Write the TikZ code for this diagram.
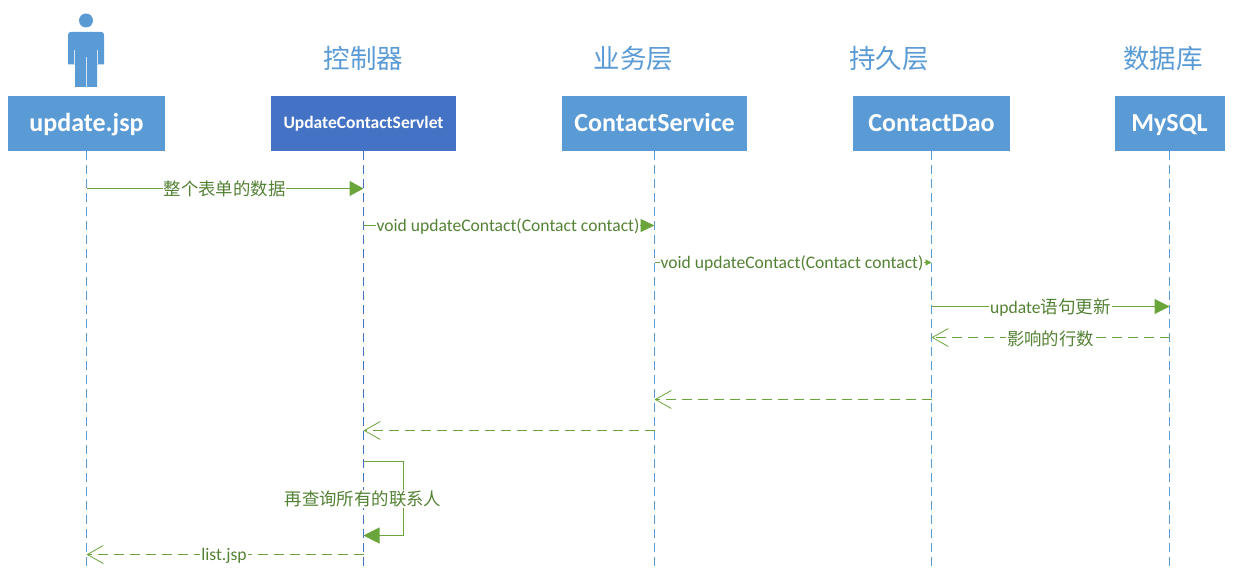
\documentclass[tikz,border=0pt]{standalone}
\usepackage{fontspec}
\setmainfont{Carlito}
\newfontfamily\cjk{Noto Sans CJK SC}
\usetikzlibrary{arrows.meta}
\definecolor{lblue}{HTML}{5B9BD5}
\definecolor{dblue}{HTML}{4472C4}
\definecolor{lgreen}{HTML}{6AA53C}
\definecolor{tgreen}{HTML}{548235}
\tikzset{
  x=1pt,y=-1pt,
  actorbox/.style={fill=lblue,text=white,minimum height=55pt,inner sep=0pt,anchor=north,text height=20pt,text depth=5pt,font=\fontsize{26}{26}\selectfont\bfseries},
  title/.style={text=lblue,font=\fontsize{26.5}{26.5}\selectfont\cjk,inner sep=0pt},
  life/.style={draw=lblue,line width=1pt,dash pattern=on 9pt off 5pt},
  lifedark/.style={draw=dblue,line width=1pt,dash pattern=on 9pt off 5pt},
  msg/.style={draw=lgreen,line width=1pt},
  ret/.style={draw=lgreen,line width=1pt,dash pattern=on 10pt off 6pt,-{Straight Barb[length=16pt,width=18pt,line width=.8pt]}},
  lbl/.style={fill=white,text=tgreen,inner sep=1pt,yshift=-1pt,font=\fontsize{17.6}{17.6}\selectfont},
  clbl/.style={lbl,font=\fontsize{17.4}{17.4}\selectfont\cjk},
}
\begin{document}
\begin{tikzpicture}
\useasboundingbox (0,0) rectangle (1234,572);
% actors
\node[actorbox,minimum width=157pt] (a) at (86.5,96) {update.jsp};
\node[actorbox,minimum width=185pt,fill=dblue,text height=14pt,text depth=4.4pt,font=\fontsize{17.5}{17.5}\selectfont\bfseries] (b) at (363.5,96) {UpdateContactServlet};
\node[actorbox,minimum width=185pt] (c) at (654.5,96) {ContactService};
\node[actorbox,minimum width=157pt] (d) at (931.5,96) {ContactDao};
\node[actorbox,minimum width=110pt] (e) at (1169.5,96) {MySQL};
% titles
\node[title] (tb) at (363.5,58.5) {控制器};
\node[title] (tc) at (633.5,58.5) {业务层};
\node[title] (td) at (889,58.5) {持久层};
\node[title] (te) at (1163,58.5) {数据库};
% person icon
\fill[lblue] (86,20.5) circle (7);
\fill[lblue] (71,32) -- (101,32) .. controls (103,32) and (104,33) .. (104,35) -- (104,64.5) -- (97,64.5) -- (97,87) -- (75,87) -- (75,64.5) -- (68,64.5) -- (68,35) .. controls (68,33) and (69,32) .. (71,32) -- cycle;
\draw[white,opacity=.75,line width=1pt] (86,57) -- (86,87);
\draw[white,opacity=.75,line width=1pt] (74.5,50) -- (74.5,64.5);
\draw[white,opacity=.75,line width=1pt] (97.5,50) -- (97.5,64.5);
% lifelines
\coordinate (aend) at (a.south |- 0,571);
\coordinate (bend) at (b.south |- 0,571);
\coordinate (cend) at (c.south |- 0,571);
\coordinate (dend) at (d.south |- 0,571);
\coordinate (eend) at (e.south |- 0,571);
\draw[life] (a.south) -- (aend);
\draw[lifedark] (b.south) -- (bend);
\draw[life] (c.south) -- (cend);
\draw[life] (d.south) -- (dend);
\draw[life] (e.south) -- (eend);
% messages
\draw[msg,-{Triangle[length=14pt,width=15pt]}] (a.south |- 0,188.5) -- node[clbl,xshift=-.5pt,yshift=1pt] (m1) {整个表单的数据} (b.south |- 0,188.5);
\draw[msg,-{Triangle[length=14pt,width=13pt]}] (b.south |- 0,225.5) -- node[lbl,xshift=-1pt] (m2) {void updateContact(Contact contact)} (c.south |- 0,225.5);
\draw[msg,-{Triangle[length=6pt,width=6pt]}] (c.south |- 0,262.5) -- node[lbl,xshift=-1pt] (m3) {void updateContact(Contact contact)} (d.south |- 0,262.5);
\draw[msg,-{Triangle[length=15pt,width=15pt]}] (d.south |- 0,306.5) -- node[lbl] (m4) {update{\cjk 语句更新}} (e.south |- 0,306.5);
\draw[ret] (e.south |- 0,337.5) -- node[clbl] (m5) {影响的行数} (d.south |- 0,337.5);
\draw[ret] (d.south |- 0,399.5) -- (c.south |- 0,399.5);
\draw[ret] (c.south |- 0,430.5) -- (b.south |- 0,430.5);
\coordinate (loopa) at (403.5,461.5);
\coordinate (loopb) at (403.5,535.5);
\draw[msg,-{Triangle[length=16pt,width=16pt]}] (b.south |- 0,461.5) -- (loopa) -- (loopb) -- (b.south |- 0,535.5);
\node[clbl,yshift=0pt] (m6) at (363,498) {再查询所有的联系人};
\draw[ret] (b.south |- 0,554.5) -- node[lbl,xshift=-1pt] (m7) {list.jsp} (a.south |- 0,554.5);
\end{tikzpicture}
\end{document}
